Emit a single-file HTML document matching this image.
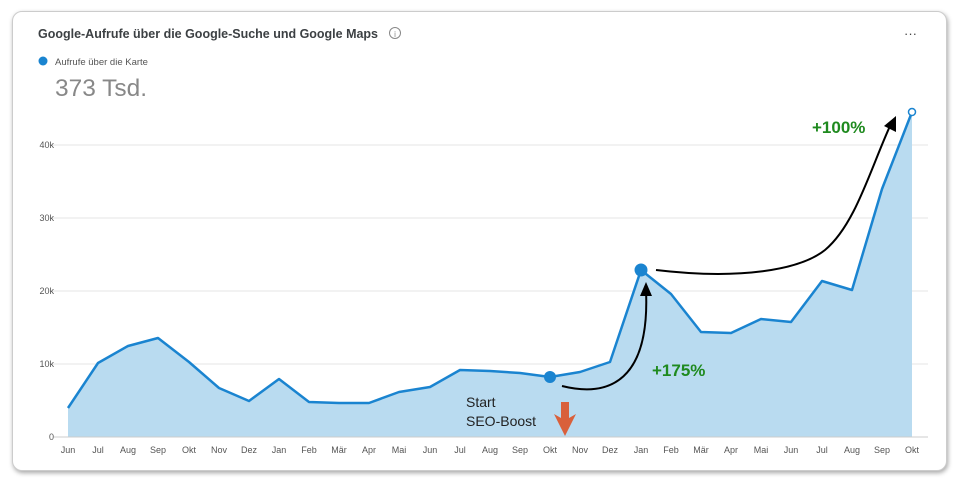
<!DOCTYPE html><html><head><meta charset="utf-8"><style>
body{margin:0;width:959px;height:484px;background:#fff;font-family:"Liberation Sans",sans-serif;overflow:hidden}
.card{position:absolute;left:12px;top:11px;width:933px;height:458px;border:1px solid #ccc;border-radius:10px;box-shadow:1px 2px 5px rgba(0,0,0,.35);background:#fff}
</style></head><body><div class="card"></div>
<svg width="959" height="484" style="position:absolute;left:0;top:0">
<text x="38" y="38" font-size="13" font-weight="bold" fill="#3c4043" textLength="340" lengthAdjust="spacingAndGlyphs">Google-Aufrufe über die Google-Suche und Google Maps</text>
<circle cx="395" cy="33" r="5.5" fill="none" stroke="#888" stroke-width="1"/><text x="395" y="37" font-size="8" fill="#888" text-anchor="middle">i</text>
<text x="904" y="38" font-size="13" fill="#444">···</text>
<circle cx="43" cy="61" r="4.5" fill="#1a84d0"/>
<text x="55" y="65" font-size="9.5" fill="#555">Aufrufe über die Karte</text>
<text x="55" y="96" font-size="24" fill="#888" textLength="92" lengthAdjust="spacingAndGlyphs">373 Tsd.</text>
<g stroke="#e6e6e6"><line x1="50" y1="145" x2="928" y2="145"/><line x1="50" y1="218" x2="928" y2="218"/><line x1="50" y1="291" x2="928" y2="291"/><line x1="50" y1="364" x2="928" y2="364"/></g>
<g font-size="9" fill="#555" text-anchor="end"><text x="54" y="148">40k</text><text x="54" y="221">30k</text><text x="54" y="294">20k</text><text x="54" y="367">10k</text><text x="54" y="440">0</text></g>
<polygon fill="#b9dbf0" points="68,437 68,408 98,363 128,346 158,338 189,362 219,388 249,401 279,379 309,402 339,403 369,403 399,392 430,387 460,370 490,371 520,373 550,377 580,372 610,362 641,270 671,294 701,332 731,333 761,319 791,322 822,281 852,290 882,189 912,112 912,437"/>
<polyline fill="none" stroke="#1a84d0" stroke-width="2.5" stroke-linejoin="round" points="68,408 98,363 128,346 158,338 189,362 219,388 249,401 279,379 309,402 339,403 369,403 399,392 430,387 460,370 490,371 520,373 550,377 580,372 610,362 641,270 671,294 701,332 731,333 761,319 791,322 822,281 852,290 882,189 912,112"/>
<line x1="54" y1="437" x2="928" y2="437" stroke="#ccc"/>
<g font-size="9" fill="#555" text-anchor="middle">
<text x="68" y="453">Jun</text><text x="98" y="453">Jul</text><text x="128" y="453">Aug</text><text x="158" y="453">Sep</text><text x="189" y="453">Okt</text><text x="219" y="453">Nov</text><text x="249" y="453">Dez</text><text x="279" y="453">Jan</text><text x="309" y="453">Feb</text><text x="339" y="453">Mär</text><text x="369" y="453">Apr</text><text x="399" y="453">Mai</text><text x="430" y="453">Jun</text><text x="460" y="453">Jul</text><text x="490" y="453">Aug</text><text x="520" y="453">Sep</text><text x="550" y="453">Okt</text><text x="580" y="453">Nov</text><text x="610" y="453">Dez</text><text x="641" y="453">Jan</text><text x="671" y="453">Feb</text><text x="701" y="453">Mär</text><text x="731" y="453">Apr</text><text x="761" y="453">Mai</text><text x="791" y="453">Jun</text><text x="822" y="453">Jul</text><text x="852" y="453">Aug</text><text x="882" y="453">Sep</text><text x="912" y="453">Okt</text></g>
<circle cx="550" cy="377" r="6" fill="#1a84d0"/><circle cx="641" cy="270" r="6.5" fill="#1a84d0"/>
<circle cx="912" cy="112" r="3.5" fill="#fff" stroke="#1a84d0" stroke-width="1.5"/>
<path d="M562,386 C610,398 650,380 646,290" fill="none" stroke="#000" stroke-width="2"/>
<polygon points="646,282 640,296 652,296" fill="#000"/>
<path d="M656,270 C740,280 800,270 825,250 C855,225 870,170 890,126" fill="none" stroke="#000" stroke-width="2"/>
<polygon points="896,116 884,126 896,132" fill="#000"/>
<text x="652" y="376" font-size="17" font-weight="bold" fill="#1f8a1f">+175%</text>
<text x="812" y="133" font-size="17" font-weight="bold" fill="#1f8a1f">+100%</text>
<text x="466" y="407" font-size="14" fill="#222">Start</text>
<text x="466" y="426" font-size="14" fill="#222">SEO-Boost</text>
<polygon points="561,402 569,402 569,418 576,414 565,436 554,414 561,418" fill="#d9603b"/>
</svg></body></html>
